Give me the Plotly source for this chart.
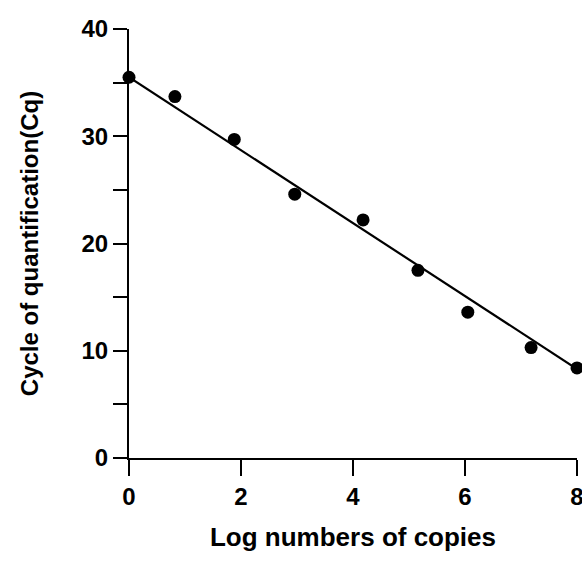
import plotly.graph_objects as go

log_copies = [0.0, 0.82, 1.88, 2.96, 4.18, 5.16, 6.05, 7.18, 8.0]
cq_values = [35.5, 33.7, 29.7, 24.6, 22.2, 17.5, 13.6, 10.3, 8.4]
fit_x = [0.0, 8.0]
fit_y = [35.5, 8.3]

x_ticks = [0, 2, 4, 6, 8]
y_ticks = [0, 10, 20, 30, 40]

fig = go.Figure()
fig.add_trace(go.Scatter(x=fit_x, y=fit_y, mode="lines",
                         line=dict(color="black", width=2.2),
                         cliponaxis=False, showlegend=False, hoverinfo="skip"))
fig.add_trace(go.Scatter(x=log_copies, y=cq_values, mode="markers",
                         marker=dict(color="black", size=13),
                         cliponaxis=False, showlegend=False))

font_family = "Liberation Sans, Arial, sans-serif"
fig.update_layout(
    width=582, height=570,
    margin=dict(l=129, r=5, t=29, b=112, autoexpand=False),
    plot_bgcolor="white", paper_bgcolor="white",
    font=dict(family=font_family, color="black"),
)
fig.update_xaxes(
    range=[0, 8], tickvals=x_ticks, ticktext=[str(v) for v in x_ticks],
    showgrid=False, zeroline=False, showline=True, linecolor="black", linewidth=2.2,
    ticks="outside", ticklen=16, tickwidth=2.2, tickcolor="black",
    ticklabeloverflow="allow", automargin=False,
    tickfont=dict(size=24, family=font_family, weight="bold"),
    title=dict(text="<b>Log numbers of copies</b>", font=dict(size=26), standoff=19),
)
fig.update_yaxes(
    range=[0, 40], tickvals=y_ticks, ticktext=[str(v) for v in y_ticks],
    showgrid=False, zeroline=False, showline=True, linecolor="black", linewidth=2.2,
    ticks="outside", ticklen=14, tickwidth=2.2, tickcolor="black",
    automargin=False,
    minor=dict(dtick=5, tick0=0, ticks="outside", ticklen=14, tickwidth=2.2,
               tickcolor="black", showgrid=False),
    tickfont=dict(size=24, family=font_family, weight="bold"),
    title=dict(text="<b>Cycle of quantification(Cq)</b>", font=dict(size=24), standoff=36),
)

fig.write_html("out.html", config={"displayModeBar": False},
               post_script="document.body.style.margin='0';document.body.style.overflow='hidden';")
